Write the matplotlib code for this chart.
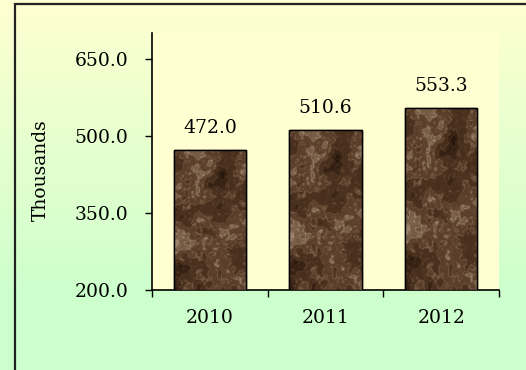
import numpy as np
import matplotlib
matplotlib.use("Agg")
import matplotlib.pyplot as plt
from matplotlib.colors import LinearSegmentedColormap
from matplotlib.patches import Rectangle

years = ["2010", "2011", "2012"]
values = [472.0, 510.6, 553.3]
yticks = [200, 350, 500, 650]

plt.rcParams['font.family'] = ['DejaVu Serif']
FS = 13.5

fig = plt.figure(figsize=(5.26, 3.70), dpi=100)

# background gradient yellow -> green
bg = fig.add_axes([0, 0, 1, 1], zorder=-10)
bg.axis('off')
t = np.clip(np.linspace(0, 1.25, 370), 0, 1)[:, None]
top = np.array([1.0, 1.0, 0.82])
bot = np.array([0.80, 1.0, 0.80])
grad = top * (1 - t) + bot * t
bg.imshow(np.repeat(grad[:, None, :], 2, axis=1), aspect='auto', extent=[0, 1, 0, 1])
bg.set_xlim(0, 1)
bg.set_ylim(0, 1)
fig.patches.append(Rectangle((15 / 526, -0.1), 1.0, 1.1 - 3.5 / 370, transform=fig.transFigure,
                             fill=False, edgecolor='#222222', linewidth=1.6, zorder=5))

ax = fig.add_axes([152 / 526, 80 / 370, 347 / 526, 257 / 370])
ax.set_facecolor('#FFFFD2')

x = np.arange(len(years))
bars = ax.bar(x, values, width=0.625, color='#4a3020', edgecolor='black',
              linewidth=1.0, zorder=3)


def upsample(g, h, w):
    # bilinear resize with np.interp
    yi = np.linspace(0, g.shape[0] - 1, h)
    xi = np.linspace(0, g.shape[1] - 1, w)
    rows = np.array([np.interp(xi, np.arange(g.shape[1]), r) for r in g])
    return np.array([np.interp(yi, np.arange(g.shape[0]), c) for c in rows.T]).T


# marble-like texture for the bars
rng = np.random.default_rng(7)
H, W = 200, 90
tex = np.zeros((H, W))
for n, wgt in [(3, 1.0), (6, 0.7), (12, 0.45), (24, 0.3), (45, 0.2)]:
    tex += wgt * upsample(rng.random((n * 2 + 1, n + 1)), H, W)
tex = (tex - tex.min()) / (tex.max() - tex.min())
veins = np.abs(np.sin(tex * 18))
tex = 0.75 * tex + 0.25 * (1 - veins) ** 3
marble = LinearSegmentedColormap.from_list('marble', ['#24140b', '#3f2818', '#5e412c', '#8c735c', '#c0ab94'])
for b in bars:
    im = ax.imshow(tex, cmap=marble, aspect='auto', zorder=3.5, interpolation='bilinear',
                   extent=[b.get_x(), b.get_x() + b.get_width(), 200, b.get_height()])
    im.set_clip_path(b)
    ax.add_patch(Rectangle((b.get_x(), 200), b.get_width(), b.get_height() - 200,
                           fill=False, edgecolor='black', linewidth=1.0, zorder=4))

for xi, v in zip(x, values):
    ax.annotate(f"{v:.1f}", (xi, v), xytext=(0, 16), textcoords='offset points',
                ha='center', va='center', fontsize=FS)

ax.set_xlim(-0.5, 2.5)
ax.set_ylim(200, 700)
ax.set_yticks(yticks)
ax.set_yticklabels([f"{v:.1f}" for v in yticks], fontsize=FS)
ax.tick_params(axis='y', direction='out', length=5, width=1, pad=12)

ax.set_xticks([-0.5, 0.5, 1.5, 2.5])
ax.set_xticklabels([])
ax.set_xticks(x, minor=True)
ax.set_xticklabels(years, minor=True, fontsize=FS)
ax.tick_params(axis='x', which='major', direction='out', length=5, width=1)
ax.tick_params(axis='x', which='minor', length=0, pad=14)

ax.spines['top'].set_visible(False)
ax.spines['right'].set_visible(False)
ax.spines['left'].set_linewidth(1.2)
ax.spines['bottom'].set_linewidth(1.2)

ax.set_ylabel('Thousands', fontsize=FS)
ax.yaxis.set_label_coords(-0.294, 0.467)

fig.savefig('out.png', dpi=100)
